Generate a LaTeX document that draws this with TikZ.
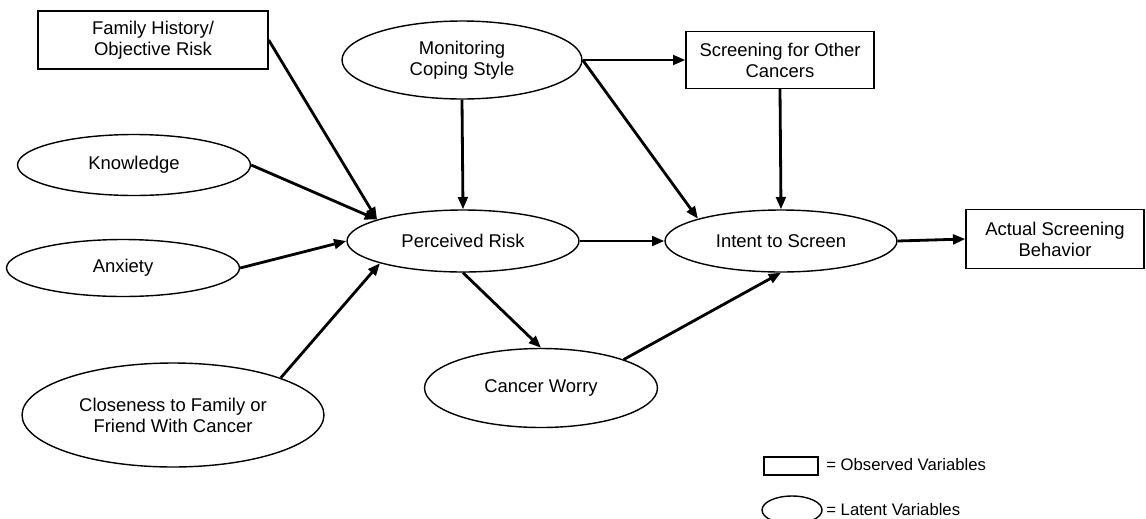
\documentclass[tikz,border=0pt]{standalone}
\usepackage{fontspec}
\setmainfont{Liberation Sans}
\usepackage{tikz}
\usetikzlibrary{arrows.meta,shapes.geometric}
\tikzset{
  lnode/.style={ellipse,draw=black,line width=0.8pt,inner sep=0pt,align=center,font=\fontsize{10.5}{12}\selectfont},
  onode/.style={rectangle,draw=black,line width=0.8pt,inner sep=0pt,align=center,font=\fontsize{10.5}{12}\selectfont},
  pedge/.style={black,line width=1.6pt,-{Triangle[length=7pt,width=5.5pt]}},
  legtxt/.style={anchor=west,inner sep=0pt,font=\fontsize{9.5}{11}\selectfont}
}

\begin{document}
\begin{tikzpicture}[x=0.02cm,y=-0.02cm]
\useasboundingbox (0,0) rectangle (1146,518);
% observed variables
\node[onode,minimum width=4.6cm,minimum height=1.16cm] (famhist) at (153,40) {Family History/\\Objective Risk};
\node[onode,minimum width=3.76cm,minimum height=1.14cm] (othscr) at (780,60) {Screening for Other\\Cancers};
\node[onode,minimum width=3.56cm,minimum height=1.18cm] (actual) at (1055,239) {Actual Screening\\Behavior};
% latent variables
\node[lnode,minimum width=4.8cm,minimum height=1.56cm] (monitor) at (462,60) {Monitoring\\Coping Style};
\node[lnode,minimum width=4.66cm,minimum height=1.22cm] (knowl) at (134,165) {Knowledge};
\node[lnode,minimum width=4.66cm,minimum height=1.14cm] (anx) at (123,268) {Anxiety};
\node[lnode,minimum width=6.04cm,minimum height=2.08cm] (close) at (173,415) {Closeness to Family or\\Friend With Cancer};
\node[lnode,minimum width=4.64cm,minimum height=1.24cm] (prisk) at (463,241) {Perceived Risk};
\node[lnode,minimum width=4.64cm,minimum height=1.24cm] (intent) at (781,241) {Intent to Screen};
\node[lnode,minimum width=4.66cm,minimum height=1.58cm] (worry) at (541,388) {Cancer Worry};
% paths
\draw[pedge] (famhist.east) -- (prisk.166);
\draw[pedge] (knowl.east) -- (prisk.166);
\draw[pedge] (anx.east) -- (prisk.west);
\draw[pedge] (close.19) -- (prisk.195);
\draw[pedge] (monitor.south) -- (prisk.north);
\draw[pedge] (monitor.east) -- (othscr.west);
\draw[pedge] (monitor.east) -- (intent.165);
\draw[pedge] (othscr.south) -- (intent.north);
\draw[pedge] (prisk.east) -- (intent.west);
\draw[pedge] (prisk.south) -- (worry.north);
\draw[pedge] (worry.19) -- (intent.south);
\draw[pedge] (intent.east) -- (actual.west);
% legend
\node[onode,minimum width=1.08cm,minimum height=0.36cm] (legobs) at (791,466) {};
\node[legtxt] (legobstxt) at (826,465) {= Observed Variables};
\node[lnode,minimum width=1.2cm,minimum height=0.56cm] (leglat) at (792,510) {};
\node[legtxt] (leglattxt) at (826,510) {= Latent Variables};
\end{tikzpicture}
\end{document}
